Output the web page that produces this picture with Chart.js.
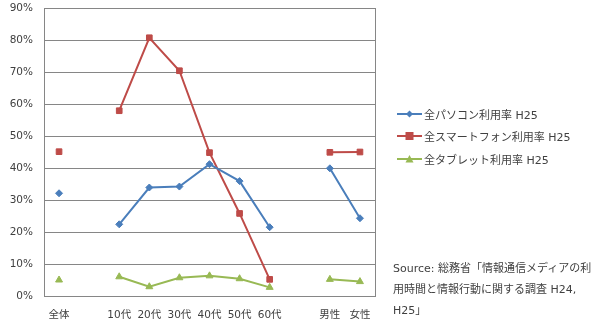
<!DOCTYPE html>
<html>
<head>
<meta charset="utf-8">
<script src="https://cdn.jsdelivr.net/npm/chart.js@4"></script>
<style>
  html, body { margin: 0; padding: 0; background: #fff; }
  #wrap { position: relative; width: 603px; height: 329px; }
  canvas { position: absolute; left: 0; top: 0; }
  .lg { position: absolute; left: 397px; font: 11px "DejaVu Sans", "Noto Sans CJK JP", sans-serif; color: #404040; white-space: nowrap; }
  .lg svg { vertical-align: middle; margin-right: 2px; }
  .lg span { vertical-align: middle; }
  #src { position: absolute; left: 393px; top: 258px; font: 11px "DejaVu Sans", "Noto Sans CJK JP", sans-serif; color: #404040; line-height: 21px; white-space: nowrap; }
</style>
</head>
<body>
<div id="wrap">
  <canvas id="c" width="603" height="329"></canvas>
  <div id="legend"></div>
  <div id="src">Source: 総務省「情報通信メディアの利<br>用時間と情報行動に関する調査 H24,<br>H25」</div>
</div>
<script>
// Categories: overall, age groups, gender (blank slots separate the groups)
const categories = ['全体', '', '10代', '20代', '30代', '40代', '50代', '60代', '', '男性', '女性'];

// Usage rates (%)
const pcRate     = [32.1, null, 22.4, 33.9, 34.2, 41.2, 35.9, 21.5, null, 39.9, 24.3];
const phoneRate  = [45.1, null, 57.9, 80.7, 70.4, 44.8, 25.8, 5.2, null, 44.9, 45.0];
const tabletRate = [5.0, null, 6.0, 2.9, 5.7, 6.3, 5.4, 2.7, null, 5.2, 4.5];

const seriesNames = ['全パソコン利用率 H25', '全スマートフォン利用率 H25', '全タブレット利用率 H25'];
const yTicks = [0, 10, 20, 30, 40, 50, 60, 70, 80, 90];

const colors = ['#4A7EBB', '#BE4B48', '#98B954'];
const markers = ['rectRot', 'rect', 'triangle'];
const radii = [3.5, 4, 4];
const FONT = '"DejaVu Sans", "Noto Sans CJK JP", sans-serif';

const series = [pcRate, phoneRate, tabletRate];

// Closes the plot frame on the right side
const frame = {
  id: 'frame',
  afterDraw(chart) {
    const { ctx, chartArea: a } = chart;
    ctx.save();
    ctx.strokeStyle = '#868686';
    ctx.lineWidth = 1;
    ctx.beginPath();
    ctx.moveTo(Math.round(a.right) + 0.5, a.top);
    ctx.lineTo(Math.round(a.right) + 0.5, a.bottom);
    ctx.stroke();
    ctx.restore();
  }
};

new Chart(document.getElementById('c'), {
  type: 'line',
  data: {
    labels: categories,
    datasets: series.map((d, i) => ({
      label: seriesNames[i],
      data: d,
      borderColor: colors[i],
      backgroundColor: colors[i],
      borderWidth: 2,
      pointStyle: markers[i],
      pointRadius: radii[i],
      pointBorderWidth: 1,
      spanGaps: false,
      tension: 0
    }))
  },
  options: {
    responsive: false,
    animation: false,
    devicePixelRatio: 1,
    layout: { padding: { top: 0, right: 228, left: 0, bottom: 0 } },
    plugins: { legend: { display: false }, tooltip: { enabled: false } },
    scales: {
      x: {
        offset: true,
        grid: { display: false, drawTicks: false },
        border: { color: '#868686', width: 1 },
        ticks: { color: '#404040', font: { family: FONT, size: 10.5 }, padding: 13, maxRotation: 0, autoSkip: false },
        afterFit(s) { s.height = 33; }
      },
      y: {
        min: 0, max: 90,
        afterBuildTicks(s) { s.ticks = yTicks.map(v => ({ value: v })); },
        grid: { color: '#868686', lineWidth: 1, drawTicks: false },
        border: { color: '#868686', width: 1 },
        ticks: { color: '#404040', font: { family: FONT, size: 10.5 }, padding: 11, callback: v => v + '%' },
        afterFit(s) { s.width = 44; s.paddingTop = 8; s.paddingBottom = 0; }
      }
    }
  },
  plugins: [frame]
});

// Legend: line sample with series marker, then name
const legendTops = [106, 128, 151];
const markerSvg = [
  '<path d="M12.5 1.5 L16 5 L12.5 8.5 L9 5 Z" fill="#4A7EBB"/>',
  '<rect x="8.5" y="1" width="8" height="8" fill="#BE4B48"/>',
  '<path d="M12.5 1 L16.5 8.5 L8.5 8.5 Z" fill="#98B954"/>'
];
const lg = document.getElementById('legend');
seriesNames.forEach((name, i) => {
  const d = document.createElement('div');
  d.className = 'lg';
  d.style.top = legendTops[i] + 'px';
  d.innerHTML = '<svg width="25" height="10"><line x1="0" y1="5" x2="25" y2="5" stroke="' + colors[i] +
    '" stroke-width="2"/>' + markerSvg[i] + '</svg><span>' + name + '</span>';
  lg.appendChild(d);
});
</script>
</body>
</html>
